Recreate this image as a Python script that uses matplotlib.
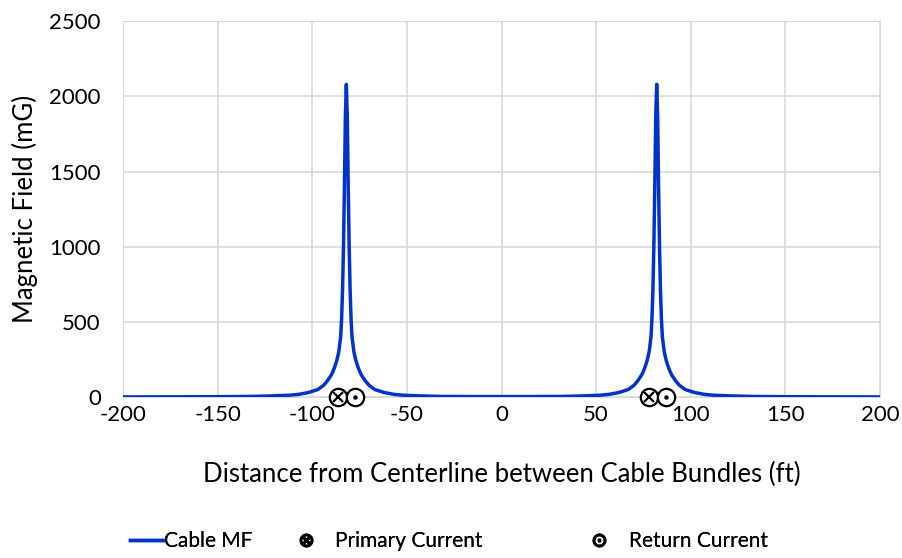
import matplotlib.pyplot as plt
from matplotlib.lines import Line2D

# distance from centerline (ft) and field (mG)
x_ft = [-200, -150, -132, -122, -112, -107, -102, -97, -94, -92, -90, -89, -88,
        -87, -86, -85, -84.5, -84, -83.5, -83, -82.5, -82, -81.5, -81, -80.5,
        -80, -79.5, -79, -78, -77, -76, -75, -74, -72, -70, -67, -62, -57,
        -52, -42, -32, -12, 0, 12, 32, 42, 52, 57, 62, 67, 70, 72, 74, 75, 76,
        77, 78, 79, 79.5, 80, 80.5, 81, 81.5, 82, 82.5, 83, 83.5, 84, 84.5, 85,
        86, 87, 88, 89, 90, 92, 94, 97, 102, 107, 112, 122, 132, 150, 200]
mf_mg = [0.5, 2, 4, 7, 12, 18, 30, 50, 78, 108, 145, 172, 205,
         245, 300, 400, 520, 710, 1000, 1400, 1870, 2080, 1870, 1400, 1000,
         710, 520, 400, 300, 245, 205, 172, 145, 108, 78, 50, 30, 18,
         12, 7, 4, 3, 3, 3, 4, 7, 12, 18, 30, 50, 78, 108, 145, 172, 205,
         245, 300, 400, 520, 710, 1000, 1400, 1870, 2080, 1870, 1400, 1000, 710, 520, 400,
         300, 245, 205, 172, 145, 108, 78, 50, 30, 18, 12, 7, 4, 2, 0.5]

primary_x = [-86.5, 78]
return_x = [-77.5, 87]

plt.rcParams['font.family'] = ['Lato', 'DejaVu Sans']
plt.rcParams['axes.unicode_minus'] = False

fig = plt.figure(figsize=(9.02, 5.58), dpi=100)
ax = fig.add_axes([0.1364, 0.2885, 0.8392, 0.6735])

blue = '#0033CC'
ax.plot(x_ft, mf_mg, color=blue, lw=2.5, zorder=3)

# circled-x and circled-dot conductor symbols on the baseline
ax.plot(primary_x, [0, 0], ls='none', marker='o', ms=12.5, mfc='white', mec='black',
        mew=1.6, clip_on=False, zorder=4)
ax.plot(primary_x, [0, 0], ls='none', marker='x', ms=7, mec='black',
        mew=1.6, clip_on=False, zorder=5)
ax.plot(return_x, [0, 0], ls='none', marker='o', ms=12.5, mfc='white', mec='black',
        mew=1.6, clip_on=False, zorder=4)
ax.plot(return_x, [0, 0], ls='none', marker='o', ms=2.2, mfc='black', mec='black',
        clip_on=False, zorder=5)

ax.set_xlim(-200, 200)
ax.set_ylim(0, 2500)
ax.set_xticks(range(-200, 201, 50))
ax.set_yticks(range(0, 2501, 500))
ax.grid(color='#d9d9d9', lw=1.2)
ax.set_axisbelow(True)
for s in ax.spines.values():
    s.set_color('#d9d9d9')
ax.tick_params(length=0, labelsize=16)
ax.tick_params(axis='y', pad=16)
ax.tick_params(axis='x', pad=6)

ax.set_xlabel('Distance from Centerline between Cable Bundles (ft)', fontsize=18.5, labelpad=26)
ax.set_ylabel('Magnetic Field (mG)', fontsize=18.5, labelpad=8)

handles = [Line2D([], [], color=blue, lw=2.5),
           Line2D([], [], ls='none', marker='$\\otimes$', ms=9, color='black'),
           Line2D([], [], ls='none', marker='$\\odot$', ms=9, color='black')]
labels = ['Cable MF', 'Primary Current', 'Return Current']
starts = [130, 296, 589]
hlen = [1.63, 1.0, 1.0]
tpad = [0.0, 0.87, 0.9]
for h, lab, x0, hl, tp in zip(handles, labels, starts, hlen, tpad):
    fig.add_artist(fig.legend([h], [lab], loc='center left',
                              bbox_to_anchor=(x0 / 902, 17 / 558),
                              frameon=False, fontsize=15, handlelength=hl,
                              handletextpad=tp, borderpad=0, borderaxespad=0))

fig.savefig('out.png', dpi=100)
